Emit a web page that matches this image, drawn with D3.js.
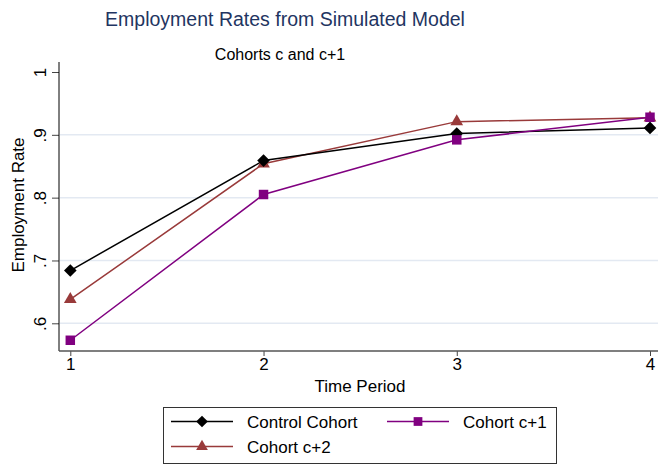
<!DOCTYPE html>
<html>
<head>
<meta charset="utf-8">
<script src="https://cdn.jsdelivr.net/npm/d3@7"></script>
<style>
  body { margin: 0; background: #fff; }
  svg { display: block; font-family: 'Liberation Sans', Arial, sans-serif; }
</style>
</head>
<body>
<div id="chart"></div>
<script>
// Data
const periods = [1, 2, 3, 4];
const control = [0.684, 0.859, 0.902, 0.911];
const cohortC1 = [0.573, 0.805, 0.892, 0.928];
const cohortC2 = [0.638, 0.854, 0.921, 0.927];
const yTicks = [0.6, 0.7, 0.8, 0.9, 1];
const yTickLabels = ['.6', '.7', '.8', '.9', '1'];

const SERIES = [
  { name: 'Control Cohort', values: control, color: '#000000', symbol: d3.symbolSquare, size: 80, rotate: 45 },
  { name: 'Cohort c+1', values: cohortC1, color: '#800080', symbol: d3.symbolSquare, size: 90, rotate: 0 },
  { name: 'Cohort c+2', values: cohortC2, color: '#993a3a', symbol: d3.symbolTriangle, size: 70, rotate: 0 }
];

const W = 658, H = 467;
const PLOT = { left: 59, right: 658, top: 62, bottom: 351 };
const FONT = 'Liberation Sans, Arial, sans-serif';

const svg = d3.select('#chart').append('svg')
  .attr('width', W)
  .attr('height', H);

const x = d3.scaleLinear().domain([1, 4]).range([70.3, 650]);
const y = d3.scaleLinear().domain([0.6, 1]).range([323.3, 72]);

// Gridlines (none at the top tick)
svg.append('g').selectAll('line')
    .data(yTicks.slice(0, -1))
  .enter().append('line')
    .attr('x1', PLOT.left + 1)
    .attr('x2', PLOT.right)
    .attr('y1', d => y(d))
    .attr('y2', d => y(d))
    .attr('stroke', '#e3e9f2')
    .attr('stroke-width', 1.5);

// Y axis
const yAxis = svg.append('g')
  .attr('transform', `translate(${PLOT.left},0)`)
  .call(d3.axisLeft(y).tickValues(yTicks).tickFormat((d, i) => yTickLabels[i]).tickSize(7).tickSizeOuter(0));
yAxis.select('.domain').remove();
yAxis.selectAll('.tick line').attr('stroke', '#444');
yAxis.selectAll('.tick text')
  .attr('font-size', 17)
  .attr('font-family', FONT)
  .attr('fill', '#000')
  .attr('text-anchor', 'middle')
  .attr('dy', 0)
  .attr('x', 0)
  .attr('transform', 'translate(-13,0) rotate(-90)');
svg.append('line')
  .attr('x1', PLOT.left).attr('x2', PLOT.left)
  .attr('y1', PLOT.top).attr('y2', PLOT.bottom)
  .attr('stroke', '#000').attr('stroke-width', 1);

// X axis
const xAxis = svg.append('g')
  .attr('transform', `translate(0,${PLOT.bottom})`)
  .call(d3.axisBottom(x).tickValues(periods).tickFormat(d3.format('d')).tickSize(5).tickSizeOuter(0));
xAxis.select('.domain').remove();
xAxis.selectAll('.tick line').attr('stroke', '#444');
xAxis.selectAll('.tick text')
  .attr('font-size', 17)
  .attr('font-family', FONT)
  .attr('fill', '#000')
  .attr('y', 7);
svg.append('line')
  .attr('x1', PLOT.left).attr('x2', PLOT.right)
  .attr('y1', PLOT.bottom).attr('y2', PLOT.bottom)
  .attr('stroke', '#555').attr('stroke-width', 1.5);

// Axis titles
svg.append('text')
  .text('Time Period')
  .attr('x', 360)
  .attr('y', 392)
  .attr('text-anchor', 'middle')
  .attr('font-size', 17);
svg.append('text')
  .text('Employment Rate')
  .attr('text-anchor', 'middle')
  .attr('font-size', 17)
  .attr('transform', 'translate(24,205) rotate(-90)');

// Titles
svg.append('text')
  .text('Employment Rates from Simulated Model')
  .attr('x', 285)
  .attr('y', 26)
  .attr('text-anchor', 'middle')
  .attr('font-size', 19.5)
  .attr('fill', '#1f3562');
svg.append('text')
  .text('Cohorts c and c+1')
  .attr('x', 280)
  .attr('y', 60)
  .attr('text-anchor', 'middle')
  .attr('font-size', 16)
  .attr('fill', '#000');

// Series lines and markers
const line = d3.line()
  .x((d, i) => x(periods[i]))
  .y(d => y(d));

// draw c+2 first, then control, then c+1 on top
for (let s of [SERIES[2], SERIES[0], SERIES[1]]) {
  svg.append('path')
    .datum(s.values)
    .attr('d', line)
    .attr('fill', 'none')
    .attr('stroke', s.color)
    .attr('stroke-width', 1.5);
}
for (let s of [SERIES[2], SERIES[0], SERIES[1]]) {
  svg.append('g').selectAll('path')
      .data(s.values)
    .enter().append('path')
      .attr('d', d3.symbol().type(s.symbol).size(s.size))
      .attr('transform', (d, i) => `translate(${x(periods[i])},${y(d)}) rotate(${s.rotate})`)
      .attr('fill', s.color);
}

// Legend
const legend = svg.append('g');
legend.append('rect')
  .attr('x', 163.5).attr('y', 407.5)
  .attr('width', 393).attr('height', 56)
  .attr('fill', '#fff')
  .attr('stroke', '#333')
  .attr('stroke-width', 1);

const legendPos = [
  { x: 171, y: 421.5 },
  { x: 387, y: 421.5 },
  { x: 171, y: 446.5 }
];
const legendOrder = [SERIES[0], SERIES[1], SERIES[2]];
legendOrder.forEach((s, i) => {
  let p = legendPos[i];
  let g = legend.append('g').attr('transform', `translate(${p.x},${p.y})`);
  g.append('line')
    .attr('x1', 0).attr('x2', 62)
    .attr('y1', 0).attr('y2', 0)
    .attr('stroke', s.color)
    .attr('stroke-width', 1.5);
  g.append('path')
    .attr('d', d3.symbol().type(s.symbol).size(s.size * 0.85))
    .attr('transform', `translate(31,0) rotate(${s.rotate})`)
    .attr('fill', s.color);
  g.append('text')
    .text(s.name)
    .attr('x', 76)
    .attr('y', 6)
    .attr('font-size', 17);
});
</script>
</body>
</html>
